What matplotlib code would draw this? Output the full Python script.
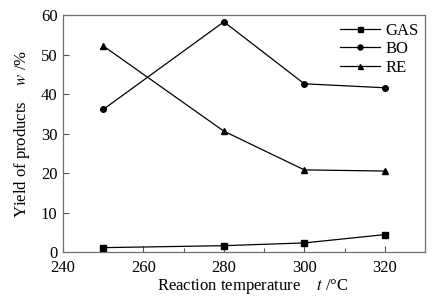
import numpy as np
import matplotlib
matplotlib.use("Agg")
import matplotlib.pyplot as plt
from matplotlib.ticker import MultipleLocator

plt.rcParams['font.family'] = ['Liberation Serif', 'DejaVu Serif']
plt.rcParams['mathtext.fontset'] = 'stix'
plt.rcParams['font.size'] = 12

temperature = [250, 280, 300, 320]
gas = [1.1, 1.6, 2.3, 4.4]
bo = [36.1, 58.3, 42.6, 41.6]
re = [52.2, 30.6, 20.8, 20.5]

fig = plt.figure(figsize=(4.48, 3.01), dpi=100)
ax = fig.add_axes([0.1406, 0.1628, 0.808, 0.787])

ax.plot(temperature, gas, color='black', lw=0.9, marker='s', ms=4, label='GAS')
ax.plot(temperature, bo, color='black', lw=0.9, marker='o', ms=4, label='BO')
ax.plot(temperature, re, color='black', lw=0.9, marker='^', ms=4, label='RE')

ax.set_xlim(240, 330)
ax.set_ylim(0, 60)
ax.xaxis.set_minor_locator(MultipleLocator(10))
ax.yaxis.set_major_locator(MultipleLocator(10))
ax.set_xticks([240, 260, 280, 300, 320])
ax.tick_params(which='both', direction='in', top=False, right=False, color='#555555')
ax.tick_params(which='major', length=4, width=0.8)
ax.tick_params(which='minor', length=3, width=0.8)
ax.tick_params(axis='x', pad=6)
ax.tick_params(axis='y', pad=4)
for s in ax.spines.values():
    s.set_color('#707070')
    s.set_linewidth(0.9)

ax.set_xlabel('Reaction temperature    $\\it{t}$ /°C')
ax.xaxis.set_label_coords(0.525, -0.105)
ax.set_ylabel('Yield of products    $\\it{w}$ /%')
ax.yaxis.set_label_coords(-0.085, 0.5)

ax.legend(loc='upper right', bbox_to_anchor=(1.01, 1.01), frameon=False,
          borderaxespad=0.2, handlelength=2.4, handletextpad=0.3,
          labelspacing=0.15, fontsize=12, markerscale=0.9)

fig.savefig('out.png', dpi=100)
